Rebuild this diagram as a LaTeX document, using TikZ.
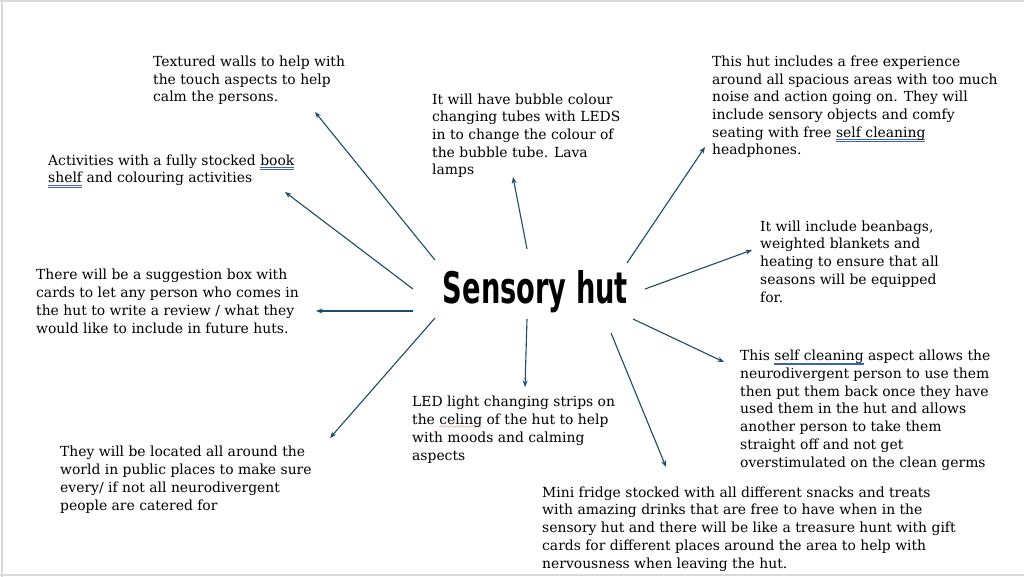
\documentclass[tikz,border=0pt]{standalone}
\usepackage{fontspec}
\setmainfont{DejaVu Serif}
\newfontfamily\hutfont{DejaVu Sans Condensed}
\usetikzlibrary{arrows.meta}
\definecolor{arrowblue}{HTML}{1B4A6B}
\definecolor{gramblue}{HTML}{3F62B8}
\definecolor{framegray}{HTML}{D9D9D9}
% grammar and spelling marks under words
\newsavebox\markbox
\font\wavefont=lasy6
\newcommand\gramline[1]{\sbox\markbox{#1}%
  \rlap{\textcolor{gramblue}{\rule[-2.4pt]{\wd\markbox}{0.6pt}}}%
  \rlap{\textcolor{gramblue}{\rule[-4.2pt]{\wd\markbox}{0.6pt}}}\usebox\markbox}
\newcommand\spellline[1]{\sbox\markbox{#1}%
  \rlap{\textcolor{red}{\raisebox{-3.5pt}[0pt][0pt]{\hbox to\wd\markbox{\xleaders\hbox{\wavefont\char58}\hfil}}}}\usebox\markbox}

\begin{document}
\begin{tikzpicture}[x=1pt,y=-1pt,
    note/.style={anchor=base west,align=left,inner sep=0pt,font=\fontsize{13.9}{17.7}\selectfont},
    arr/.style={-{Stealth[length=6.5pt,width=5pt]},draw=arrowblue,line width=1.1pt}]
    \useasboundingbox (0,0) rectangle (1024,577);
    \draw[framegray,line width=1.5pt] (0,1) -- (1024,1) (2,0) -- (2,577) (0,575) -- (1024,575);
    % centre title
    \node[anchor=base,inner sep=0pt] (hut) at (535.5,303) {\resizebox{185pt}{33pt}{\hutfont\bfseries Sensory hut}};
    % notes round the hut (placed by the baseline of their last line)
    \node[note] (walls)     at (153,102) {Textured walls to help with\\the touch aspects to help\\calm the persons.};
    \node[note] (books)     at (48,183)  {Activities with a fully stocked \gramline{book}\\\gramline{shelf} and colouring activities};
    \node[note] (review)    at (36,333)  {There will be a suggestion box with\\cards to let any person who comes in\\the hut to write a review / what they\\would like to include in future huts.};
    \node[note] (bubble)    at (432,175) {It will have bubble colour\\changing tubes with LEDS\\in to change the colour of\\the bubble tube. Lava\\lamps};
    \node[note] (headph)    at (712,155) {This hut includes a free experience\\around all spacious areas with too much\\noise and action going on. They will\\include sensory objects and comfy\\seating with free \gramline{self cleaning}\\headphones.};
    \node[note] (beanbag)   at (760,302) {It will include beanbags,\\weighted blankets and\\heating to ensure that all\\seasons will be equipped\\for.};
    \node[note] (selfclean) at (740,467) {This \gramline{self cleaning} aspect allows the\\neurodivergent person to use them\\then put them back once they have\\used them in the hut and allows\\another person to take them\\straight off and not get\\overstimulated on the clean germs};
    \node[note] (ledstrip)  at (412,460) {LED light changing strips on\\the \spellline{celing} of the hut to help\\with moods and calming\\aspects};
    \node[note] (located)   at (60,510)  {They will be located all around the\\world in public places to make sure\\every/ if not all neurodivergent\\people are catered for};
    \node[note] (fridge)    at (542,568) {Mini fridge stocked with all different snacks and treats\\with amazing drinks that are free to have when in the\\sensory hut and there will be like a treasure hunt with gift\\cards for different places around the area to help with\\nervousness when leaving the hut.};
    % arrow ends
    \coordinate (wallsA) at (435,260);  \coordinate (wallsB) at (315,112);
    \coordinate (booksA) at (413,289);  \coordinate (booksB) at (285,192);
    \coordinate (reviewA) at (413,311); \coordinate (reviewB) at (316,311);
    \coordinate (locatedA) at (435,318);\coordinate (locatedB) at (330,438);
    \coordinate (bubbleA) at (527,249); \coordinate (bubbleB) at (513,177);
    \coordinate (headphA) at (627,263); \coordinate (headphB) at (705,147);
    \coordinate (beanbagA) at (645,289);\coordinate (beanbagB) at (752,250);
    \coordinate (selfcleanA) at (633,319); \coordinate (selfcleanB) at (724,362);
    \coordinate (fridgeA) at (611,333); \coordinate (fridgeB) at (666,467);
    \coordinate (ledstripA) at (527,319); \coordinate (ledstripB) at (525,387);
    \foreach \n in {walls,books,review,located,bubble,headph,beanbag,selfclean,fridge,ledstrip}
      \draw[arr] (\n A) -- (\n B);
\end{tikzpicture}
\end{document}
